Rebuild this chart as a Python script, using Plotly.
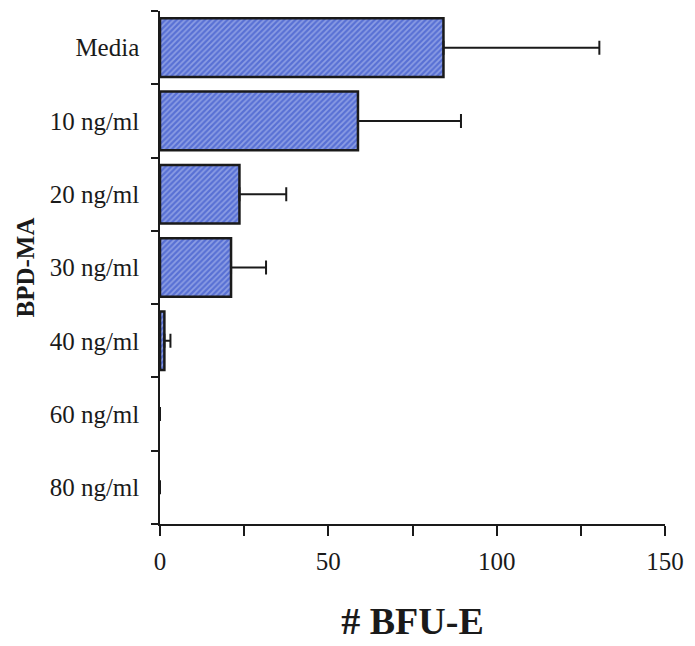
import plotly.graph_objects as go

categories = ["Media", "10 ng/ml", "20 ng/ml", "30 ng/ml", "40 ng/ml", "60 ng/ml", "80 ng/ml"]
bfu_e = [84.2, 58.8, 23.6, 21.1, 1.3, 0, 0]
err_plus = [46.3, 30.6, 13.9, 10.4, 1.8, 0, 0]
x_tickvals = [0, 50, 100, 150]

fig = go.Figure()
fig.add_trace(go.Bar(
    y=categories,
    x=bfu_e,
    orientation="h",
    width=0.8,
    marker=dict(
        color="#5870d4",
        opacity=[1 if v > 0 else 0 for v in bfu_e],
        line=dict(color="#1a1a1a", width=[2.5 if v > 0 else 0 for v in bfu_e]),
        pattern=dict(shape="/", fgcolor="#c0cbf3", bgcolor="#5870d4", size=4, solidity=0.45),
    ),
    error_x=dict(
        type="data",
        symmetric=False,
        array=[e if e > 0 else None for e in err_plus],
        arrayminus=[0 if e > 0 else None for e in err_plus],
        color="#1a1a1a",
        thickness=2,
        width=7,
    ),
    hoverinfo="skip",
))

fig.update_layout(
    width=695,
    height=646,
    margin=dict(l=160, r=22, t=11, b=122),
    paper_bgcolor="white",
    plot_bgcolor="white",
    showlegend=False,
    font=dict(family="Liberation Serif, Times New Roman, serif", color="#1a1a1a"),
    xaxis=dict(
        range=[0, 150],
        tickvals=x_tickvals,
        ticks="outside",
        ticklen=10,
        tickwidth=1.5,
        tickcolor="#1a1a1a",
        minor=dict(dtick=25, tick0=0, ticks="outside", ticklen=10, tickwidth=1.5, tickcolor="#1a1a1a"),
        showline=True,
        linecolor="#1a1a1a",
        linewidth=1.5,
        showgrid=False,
        zeroline=False,
        tickfont=dict(size=25),
        ticklabelstandoff=4,
        ticklabeloverflow="allow",
        title=dict(text="<b># BFU-E</b>", font=dict(size=38), standoff=34),
    ),
    yaxis=dict(
        categoryorder="array",
        categoryarray=categories[::-1],
        range=[-0.5, len(categories) - 0.5],
        tickson="boundaries",
        ticks="outside",
        ticklen=7,
        tickwidth=1.5,
        tickcolor="#1a1a1a",
        showline=True,
        linecolor="#1a1a1a",
        linewidth=1.5,
        showgrid=False,
        zeroline=False,
        tickfont=dict(size=25),
        ticklabelstandoff=14,
        title=dict(text="<b>BPD-MA</b>", font=dict(size=25), standoff=8),
    ),
)

fig.write_html("out.html", config={"displayModeBar": False},
               post_script="document.body.style.margin='0';")
